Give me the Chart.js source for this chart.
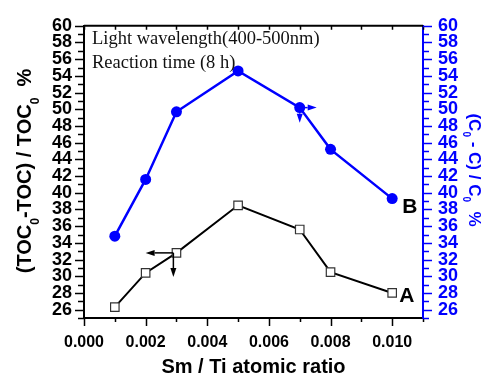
<!DOCTYPE html>
<html lang="en">
<head>
<meta charset="UTF-8">
<title>TOC and dye removal vs Sm/Ti ratio</title>
<script src="https://cdn.jsdelivr.net/npm/chart.js@4.4.0/dist/chart.umd.min.js"></script>
<style>
    * { margin: 0; padding: 0; box-sizing: border-box; }
    body { background: #fff; width: 486px; height: 376px; overflow: hidden; }
    .wrap { position: relative; width: 486px; height: 376px; }
</style>
</head>
<body>
<div class="wrap"><canvas id="chart" width="486" height="376"></canvas></div>
<script>
const ratio = [0.001, 0.002, 0.003, 0.005, 0.007, 0.008, 0.010];
const tocRemoval = [26.3, 30.4, 32.8, 38.5, 35.6, 30.5, 28.0];   // curve A, left axis
const dyeRemoval = [34.8, 41.6, 49.7, 54.6, 50.2, 45.2, 39.3];   // curve B, right axis
const yTickLabels = [26, 28, 30, 32, 34, 36, 38, 40, 42, 44, 46, 48, 50, 52, 54, 56, 58, 60];
const xTickLabels = ['0.000', '0.002', '0.004', '0.006', '0.008', '0.010'];

const BLUE = '#0000ff';
const bold = (size) => ({ family: '"Liberation Sans", Arial, sans-serif', size: size, weight: 'bold' });

const yLabel = (v) => yTickLabels.includes(v) ? String(v) : '';
const xLabel = (v) => {
    const s = Number(v).toFixed(3);
    return xTickLabels.includes(s) ? s : '';
};

// text with subscript pieces, centred on the current origin
function drawRich(ctx, parts, size) {
    const sub = Math.round(size * 0.6);
    let total = 0;
    parts.forEach(p => {
        ctx.font = `bold ${p.sub ? sub : size}px "Liberation Sans", Arial, sans-serif`;
        p.w = ctx.measureText(p.t).width;
        total += p.w;
    });
    let x = -total / 2;
    parts.forEach(p => {
        ctx.font = `bold ${p.sub ? sub : size}px "Liberation Sans", Arial, sans-serif`;
        ctx.fillText(p.t, x, p.sub ? size * 0.38 : 0);
        x += p.w;
    });
}

function arrow(ctx, x1, y1, x2, y2) {
    const a = Math.atan2(y2 - y1, x2 - x1);
    const len = 9, half = 3;
    ctx.beginPath();
    ctx.moveTo(x1, y1);
    ctx.lineTo(x2 - Math.cos(a) * len, y2 - Math.sin(a) * len);
    ctx.stroke();
    ctx.beginPath();
    ctx.moveTo(x2, y2);
    ctx.lineTo(x2 - Math.cos(a) * len - Math.sin(a) * half, y2 - Math.sin(a) * len + Math.cos(a) * half);
    ctx.lineTo(x2 - Math.cos(a) * len + Math.sin(a) * half, y2 - Math.sin(a) * len - Math.cos(a) * half);
    ctx.closePath();
    ctx.fill();
}

const decorations = {
    id: 'decorations',
    afterDraw(chart) {
        const ctx = chart.ctx;
        const area = chart.chartArea;
        const xs = chart.scales.x, yl = chart.scales.y, yr = chart.scales.y1;
        ctx.save();

        // top frame line
        ctx.strokeStyle = '#000';
        ctx.lineWidth = 2;
        ctx.beginPath();
        ctx.moveTo(area.left, area.top);
        ctx.lineTo(area.right, area.top);
        ctx.stroke();

        // tick marks
        ctx.lineWidth = 1.5;
        xs.ticks.forEach(t => {
            const p = Math.round(xs.getPixelForValue(t.value)) + 0.5;
            const len = t.label ? 8 : 4;
            ctx.beginPath();
            ctx.moveTo(p, area.bottom);
            ctx.lineTo(p, area.bottom + len);
            ctx.moveTo(p, area.top);
            ctx.lineTo(p, area.top + 4);
            ctx.stroke();
        });
        yl.ticks.forEach(t => {
            const p = Math.round(yl.getPixelForValue(t.value)) + 0.5;
            const len = t.label ? 9 : 6;
            ctx.beginPath();
            ctx.moveTo(area.left, p);
            ctx.lineTo(area.left - len, p);
            ctx.stroke();
        });
        ctx.strokeStyle = BLUE;
        yr.ticks.forEach(t => {
            const p = Math.round(yr.getPixelForValue(t.value)) + 0.5;
            const len = t.label ? 9 : 6;
            ctx.beginPath();
            ctx.moveTo(area.right, p);
            ctx.lineTo(area.right + len, p);
            ctx.stroke();
        });

        // axis titles
        ctx.fillStyle = '#000';
        ctx.textAlign = 'left';
        ctx.textBaseline = 'alphabetic';
        ctx.save();
        ctx.translate((area.left + area.right) / 2, 373);
        drawRich(ctx, [{ t: 'Sm / Ti atomic ratio' }], 20);
        ctx.restore();

        ctx.save();
        ctx.translate(31, 171);
        ctx.rotate(-Math.PI / 2);
        drawRich(ctx, [{ t: '(TOC' }, { t: '0', sub: true }, { t: '-TOC) / TOC' }, { t: '0', sub: true }, { t: '  %' }], 20);
        ctx.restore();

        ctx.fillStyle = BLUE;
        ctx.save();
        ctx.translate(469, 170);
        ctx.rotate(Math.PI / 2);
        drawRich(ctx, [{ t: '(C' }, { t: '0', sub: true }, { t: ' - C) / C' }, { t: '0', sub: true }, { t: '  %' }], 17);
        ctx.restore();

        // in-plot notes
        ctx.fillStyle = '#111';
        ctx.font = '18.5px "Liberation Serif", "Times New Roman", serif';
        ctx.fillText('Light wavelength(400-500nm)', area.left + 8, area.top + 18);
        ctx.fillText('Reaction time (8 h)', area.left + 8, area.top + 42);

        // curve labels
        const last = ratio.length - 1;
        ctx.font = 'bold 21px "Liberation Sans", Arial, sans-serif';
        ctx.fillStyle = '#000';
        ctx.textBaseline = 'middle';
        ctx.fillText('A', xs.getPixelForValue(ratio[last]) + 7, yl.getPixelForValue(tocRemoval[last]) + 3);
        ctx.fillText('B', xs.getPixelForValue(ratio[last]) + 10, yr.getPixelForValue(dyeRemoval[last]) + 9);

        // axis-pointer arrows
        ctx.lineWidth = 1.5;
        ctx.strokeStyle = '#000';
        ctx.fillStyle = '#000';
        const ax = xs.getPixelForValue(0.0029), ay = yl.getPixelForValue(tocRemoval[2]);
        arrow(ctx, ax, ay, xs.getPixelForValue(0.002), ay);
        arrow(ctx, ax, ay, ax, yl.getPixelForValue(29.9));
        ctx.strokeStyle = BLUE;
        ctx.fillStyle = BLUE;
        const bx = xs.getPixelForValue(ratio[4]), by = yr.getPixelForValue(dyeRemoval[4]);
        arrow(ctx, bx, by, xs.getPixelForValue(0.00755), by);
        arrow(ctx, bx, by, bx, yr.getPixelForValue(48.4));
        ctx.restore();
    }
};

new Chart(document.getElementById('chart'), {
    type: 'scatter',
    data: {
        datasets: [
            {
                label: 'A',
                data: ratio.map((x, i) => ({ x: x, y: tocRemoval[i] })),
                yAxisID: 'y',
                showLine: true,
                borderColor: '#000',
                borderWidth: 2,
                pointStyle: 'rect',
                pointRadius: 6,
                pointBorderWidth: 1.2,
                pointBorderColor: '#333',
                pointBackgroundColor: '#fff'
            },
            {
                label: 'B',
                data: ratio.map((x, i) => ({ x: x, y: dyeRemoval[i] })),
                yAxisID: 'y1',
                showLine: true,
                borderColor: BLUE,
                borderWidth: 2.5,
                pointStyle: 'circle',
                pointRadius: 5.5,
                pointBorderWidth: 0,
                pointBackgroundColor: BLUE
            }
        ]
    },
    options: {
        responsive: false,
        animation: false,
        layout: { padding: { top: 22, left: 0, right: 0, bottom: 0 } },
        plugins: { legend: { display: false }, tooltip: { enabled: false } },
        scales: {
            x: {
                type: 'linear',
                min: 0,
                max: 0.011,
                afterFit: (s) => { s.height = 58; },
                ticks: { stepSize: 0.001, autoSkip: false, maxRotation: 0, padding: 15, color: '#000', font: bold(16), callback: xLabel },
                grid: { display: true, drawOnChartArea: false, drawTicks: false },
                border: { display: true, color: '#000', width: 2 }
            },
            y: {
                position: 'left',
                min: 25,
                max: 60,
                afterFit: (s) => { s.width = 84; },
                ticks: { stepSize: 1, autoSkip: false, padding: 12, color: '#000', font: bold(18), callback: yLabel },
                grid: { display: true, drawOnChartArea: false, drawTicks: false },
                border: { display: true, color: '#000', width: 2 }
            },
            y1: {
                position: 'right',
                min: 25,
                max: 60,
                afterFit: (s) => { s.width = 63; },
                ticks: { stepSize: 1, autoSkip: false, padding: 15, color: BLUE, font: bold(18), callback: yLabel },
                grid: { display: true, drawOnChartArea: false, drawTicks: false },
                border: { display: true, color: BLUE, width: 2 }
            }
        }
    },
    plugins: [decorations]
});
</script>
</body>
</html>
